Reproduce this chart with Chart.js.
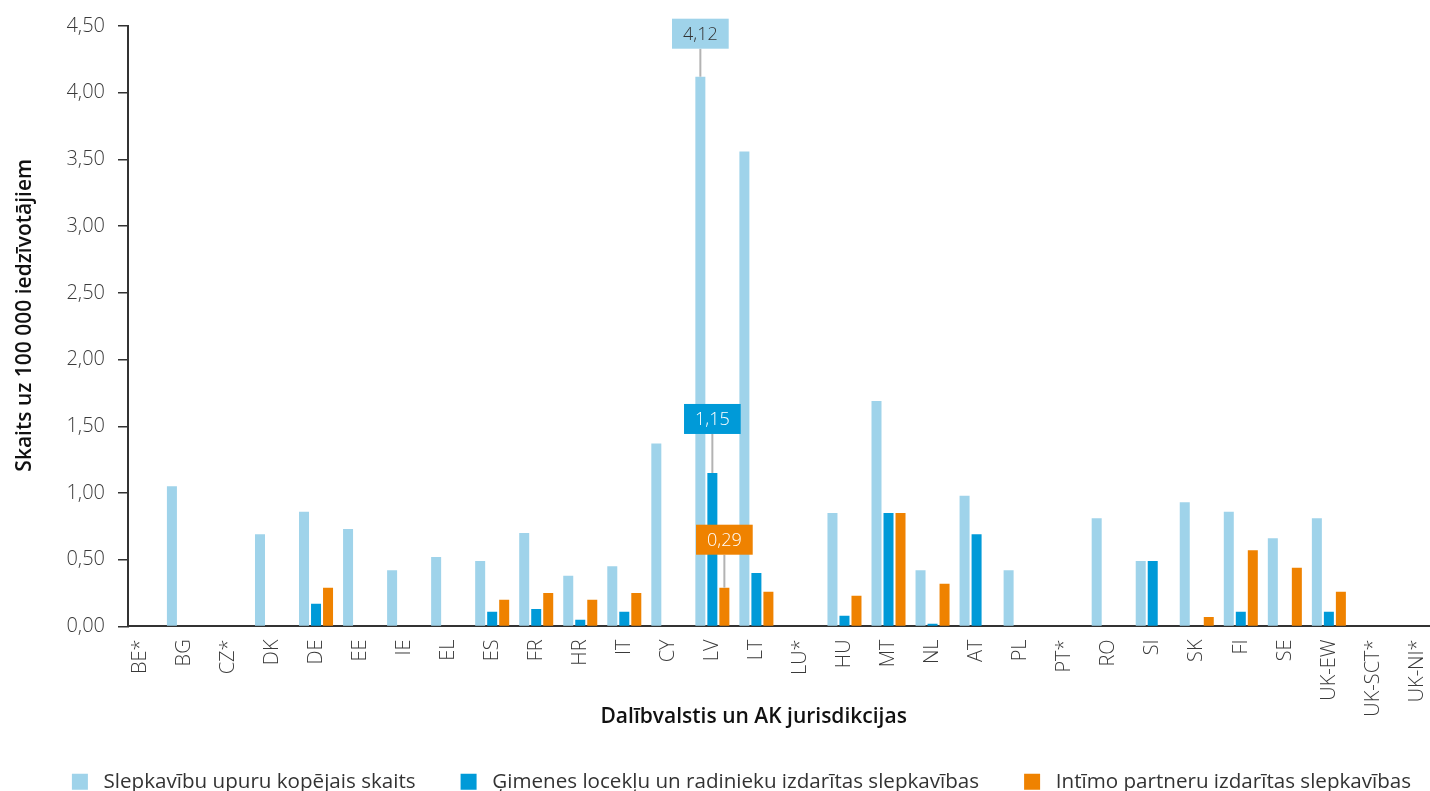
<!DOCTYPE html>
<html lang="lv">
<head>
<meta charset="utf-8">
<title>Slepkavības</title>
<script src="https://cdn.jsdelivr.net/npm/chart.js@4.4.1/dist/chart.umd.min.js"></script>
<style>
  html, body { margin: 0; padding: 0; background: #fff; overflow: hidden; }
  #wrap { width: 1483px; height: 802px; }
</style>
</head>
<body>
<div id="wrap"><canvas id="chart" width="1483" height="802"></canvas></div>
<script>
// Dati
const countries = ['BE*', 'BG', 'CZ*', 'DK', 'DE', 'EE', 'IE', 'EL', 'ES', 'FR', 'HR', 'IT', 'CY', 'LV', 'LT',
  'LU*', 'HU', 'MT', 'NL', 'AT', 'PL', 'PT*', 'RO', 'SI', 'SK', 'FI', 'SE', 'UK-EW', 'UK-SCT*', 'UK-NI*'];

const totalVictims   = [null, 1.05, null, 0.69, 0.86, 0.73, 0.42, 0.52, 0.49, 0.70, 0.38, 0.45, 1.37, 4.12, 3.56,
  null, 0.85, 1.69, 0.42, 0.98, 0.42, null, 0.81, 0.49, 0.93, 0.86, 0.66, 0.81, null, null];
const familyKillings = [null, null, null, null, 0.17, null, null, null, 0.11, 0.13, 0.05, 0.11, null, 1.15, 0.40,
  null, 0.08, 0.85, 0.02, 0.69, null, null, null, 0.49, null, 0.11, null, 0.11, null, null];
const partnerKillings = [null, null, null, null, 0.29, null, null, null, 0.20, 0.25, 0.20, 0.25, null, 0.29, 0.26,
  null, 0.23, 0.85, 0.32, null, null, null, null, null, 0.07, 0.57, 0.44, 0.26, null, null];

const seriesNames = ['Slepkavību upuru kopējais skaits', 'Ģimenes locekļu un radinieku izdarītas slepkavības',
  'Intīmo partneru izdarītas slepkavības'];

const fontFamily = '"Open Sans", "Noto Sans", sans-serif';
const nb = n => '\u00A0'.repeat(n);
const fmt = v => v.toFixed(2).replace('.', ',');
const toPoints = arr => arr.map((v, i) => ({ x: i, y: v }));

// Izceltās vērtības (LV)
const callouts = [
  { ds: 0, i: 13, fill: '#9fd3ea', color: '#333', lift: 28 },
  { ds: 1, i: 13, fill: '#009ad8', color: '#fff', lift: 39 },
  { ds: 2, i: 13, fill: '#ef8200', color: '#fff', lift: 33 }
];

const calloutPlugin = {
  id: 'callouts',
  afterDatasetsDraw(chart) {
    const ctx = chart.ctx;
    ctx.save();
    ctx.font = '300 18px ' + fontFamily;
    callouts.forEach(c => {
      const bar = chart.getDatasetMeta(c.ds).data[c.i];
      const text = fmt(chart.data.datasets[c.ds].data[c.i].y);
      const w = ctx.measureText(text).width + 22, h = 30;
      const bottom = bar.y - c.lift;
      ctx.strokeStyle = '#b3b3b3';
      ctx.lineWidth = 2;
      ctx.beginPath();
      ctx.moveTo(bar.x, bottom);
      ctx.lineTo(bar.x, bar.y);
      ctx.stroke();
      ctx.fillStyle = c.fill;
      ctx.fillRect(bar.x - w / 2, bottom - h, w, h);
      ctx.fillStyle = c.color;
      ctx.textAlign = 'center';
      ctx.textBaseline = 'middle';
      ctx.fillText(text, bar.x, bottom - h / 2 + 1);
    });
    ctx.restore();
  }
};

const ctx = document.getElementById('chart').getContext('2d');

new Chart(ctx, {
  type: 'bar',
  data: {
    datasets: [
      { label: seriesNames[0], data: toPoints(totalVictims), backgroundColor: '#9fd3ea' },
      { label: seriesNames[1], data: toPoints(familyKillings), backgroundColor: '#009ad8' },
      { label: seriesNames[2], data: toPoints(partnerKillings), backgroundColor: '#ef8200' }
    ]
  },
  options: {
    responsive: false,
    animation: false,
    categoryPercentage: 0.818,
    barPercentage: 0.833,
    layout: { padding: { top: 26, left: 0, right: 0, bottom: 0 } },
    scales: {
      x: {
        type: 'linear',
        min: -0.27,
        max: 30.5,
        offset: false,
        afterBuildTicks: s => { s.ticks = s.ticks.filter(t => t.value >= 0 && t.value < countries.length); },
        ticks: {
          stepSize: 1,
          includeBounds: false,
          autoSkip: false,
          minRotation: 90,
          maxRotation: 90,
          padding: 13,
          color: '#3a3a3a',
          font: { family: fontFamily, size: 20, weight: '300' },
          callback: v => countries[v] ?? ''
        },
        grid: { display: false, drawTicks: false },
        border: { color: '#333', width: 2 },
        title: {
          display: true,
          text: 'Dalībvalstis un AK jurisdikcijas' + nb(19),
          color: '#111',
          font: { family: fontFamily, size: 21, weight: '600' },
          padding: { top: 0, bottom: -3.6 }
        },
        afterFit: s => { s.height = 100; }
      },
      y: {
        min: 0,
        max: 4.5,
        ticks: {
          stepSize: 0.5,
          padding: 13,
          color: '#3a3a3a',
          font: { family: fontFamily, size: 20, weight: '300' },
          callback: v => fmt(v)
        },
        grid: { drawOnChartArea: false, drawTicks: true, tickLength: 10, color: '#333', lineWidth: 1.5 },
        border: { color: '#333', width: 2 },
        title: {
          display: true,
          text: nb(4) + 'Skaits uz 100 000 iedzīvotājiem',
          color: '#111',
          font: { family: fontFamily, size: 21, weight: '600' },
          padding: { top: 12, bottom: 0 }
        },
        afterFit: s => { s.width = 128; }
      }
    },
    plugins: {
      legend: {
        position: 'bottom',
        labels: {
          boxWidth: 16,
          boxHeight: 16,
          padding: 45,
          color: '#333',
          font: { family: fontFamily, size: 20.6, weight: '400' },
          generateLabels: chart => Chart.defaults.plugins.legend.labels.generateLabels(chart)
            .map(l => ({ ...l, text: ' ' + l.text, lineWidth: 0 }))
        }
      },
      tooltip: { enabled: false }
    }
  },
  plugins: [calloutPlugin]
});
</script>
</body>
</html>
